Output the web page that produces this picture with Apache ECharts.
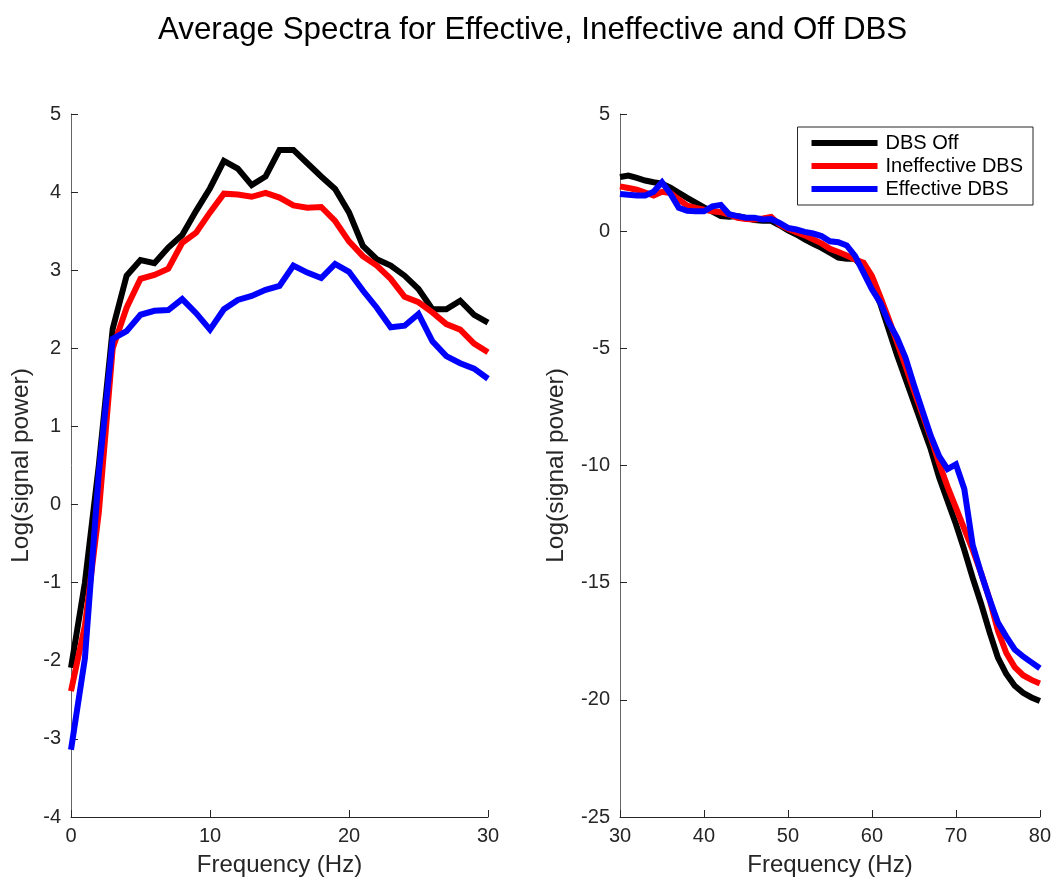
<!DOCTYPE html>
<html>
<head>
<meta charset="utf-8">
<script src="https://cdn.jsdelivr.net/npm/echarts@6/dist/echarts.min.js"></script>
<style>
html,body{margin:0;padding:0;background:#fff;}
#chart{width:1054px;height:882px;}
</style>
</head>
<body>
<div id="chart"></div>
<script>
// ---------- data ----------
const titleText = 'Average Spectra for Effective, Ineffective and Off DBS';
const seriesNames = ['DBS Off', 'Ineffective DBS', 'Effective DBS'];
const seriesColors = ['#000000', '#ff0000', '#0000ff'];

const leftFreq = [0,1,2,3,4,5,6,7,8,9,10,11,12,13,14,15,16,17,18,19,20,21,22,23,24,25,26,27,28,29,30];
const leftOff   = [-2.09,-1.0,0.5,2.25,2.93,3.13,3.09,3.29,3.45,3.76,4.05,4.40,4.30,4.09,4.20,4.54,4.54,4.37,4.20,4.04,3.74,3.31,3.14,3.06,2.93,2.76,2.50,2.50,2.61,2.43,2.33];
const leftIneff = [-2.39,-1.55,-0.1,2.0,2.52,2.89,2.94,3.02,3.35,3.48,3.74,3.98,3.97,3.94,3.99,3.93,3.83,3.80,3.81,3.63,3.37,3.18,3.06,2.89,2.66,2.59,2.46,2.31,2.24,2.06,1.95];
const leftEff   = [-3.14,-1.97,0.4,2.12,2.22,2.43,2.48,2.49,2.63,2.45,2.24,2.50,2.62,2.67,2.75,2.80,3.06,2.97,2.90,3.08,2.98,2.74,2.52,2.27,2.29,2.44,2.09,1.90,1.81,1.74,1.61];

const rightFreq = [30,31,32,33,34,35,36,37,38,39,40,41,42,43,44,45,46,47,48,49,50,51,52,53,54,55,56,57,58,59,60,61,62,63,64,65,66,67,68,69,70,71,72,73,74,75,76,77,78,79,80];
const rightOff = [2.31,2.37,2.27,2.16,2.09,2.03,1.86,1.64,1.42,1.22,
  1.02,0.83,0.65,0.62,0.65,0.57,0.48,0.44,0.44,0.25,
  0.03,-0.14,-0.35,-0.54,-0.71,-0.92,-1.13,-1.18,-1.18,-1.6,
  -2.3,-3.1,-4.2,-5.3,-6.3,-7.3,-8.3,-9.3,-10.5,-11.5,
  -12.5,-13.6,-14.8,-15.9,-17.1,-18.2,-18.9,-19.4,-19.7,-19.9,
  -20.05];
const rightIneff = [1.91,1.84,1.77,1.65,1.52,1.68,1.63,1.35,1.09,0.99,
  0.92,0.85,0.81,0.71,0.57,0.52,0.50,0.54,0.61,0.28,
  0.10,-0.04,-0.18,-0.35,-0.52,-0.75,-0.89,-1.04,-1.21,-1.35,
  -1.91,-2.8,-3.75,-4.75,-5.75,-6.8,-7.8,-8.8,-9.9,-10.9,
  -11.8,-12.7,-13.6,-14.6,-15.7,-17.05,-18.0,-18.6,-18.95,-19.15,
  -19.3];
const rightEff = [1.59,1.55,1.52,1.52,1.68,2.09,1.6,1.0,0.87,0.85,
  0.85,1.06,1.12,0.72,0.64,0.57,0.57,0.50,0.52,0.35,
  0.14,0.07,-0.03,-0.10,-0.21,-0.43,-0.47,-0.61,-1.06,-1.77,
  -2.48,-3.05,-3.90,-4.55,-5.4,-6.56,-7.65,-8.73,-9.6,-10.15,
  -9.95,-11.0,-13.4,-14.6,-15.7,-16.7,-17.3,-17.85,-18.15,-18.4,
  -18.65];

const xTitle = 'Frequency (Hz)';
const yTitle = 'Log(signal power)';

// ---------- chart ----------
const FONT = '"Liberation Sans", Arial, Helvetica, sans-serif';
const TXT = '#262626';
function pairs(xs, ys){ return xs.map((x,i)=>[x, ys[i]]); }

const chart = echarts.init(document.getElementById('chart'), null, {renderer:'canvas'});

function xAxisCfg(gridIndex, min, max){
  return {
    type:'value', gridIndex, min, max, interval:10,
    name:xTitle, nameLocation:'middle', nameGap:36,
    nameTextStyle:{fontFamily:FONT, fontSize:24, color:TXT},
    axisLine:{show:true, onZero:false, lineStyle:{color:'#262626', width:1}},
    axisTick:{show:true, inside:true, length:7, lineStyle:{color:'#262626'}},
    axisLabel:{fontFamily:FONT, fontSize:20, color:TXT, margin:9},
    splitLine:{show:false}
  };
}
function yAxisCfg(gridIndex, min, max, interval, gap){
  return {
    type:'value', gridIndex, min, max, interval,
    name:yTitle, nameLocation:'middle', nameGap:gap, nameRotate:90,
    nameTextStyle:{fontFamily:FONT, fontSize:24.5, color:TXT},
    axisLine:{show:true, onZero:false, lineStyle:{color:'#666666', width:1}},
    axisTick:{show:true, inside:true, length:7, lineStyle:{color:'#262626'}},
    axisLabel:{fontFamily:FONT, fontSize:20, color:TXT, margin:10},
    splitLine:{show:false}
  };
}
function lineSeries(name, color, xi, data){
  return {
    name, type:'line', xAxisIndex:xi, yAxisIndex:xi, data,
    showSymbol:false, symbol:'none', smooth:false,
    lineStyle:{color, width:6, join:'miter', cap:'butt'},
    itemStyle:{color},
    emphasis:{disabled:true}, animation:false
  };
}

const option = {
  backgroundColor:'#ffffff',
  animation:false,
  title:{
    text:titleText, left:153, top:10,
    textStyle:{fontFamily:FONT, fontSize:31.3, fontWeight:'normal', color:'#000'}
  },
  legend:{
    data:seriesNames.map((n,i)=>({name:n, icon:'rect', itemStyle:{color:seriesColors[i]}})),
    orient:'vertical', right:21, top:127,
    itemWidth:66, itemHeight:6, itemGap:3,
    padding:[6,10,6,14],
    borderColor:'#262626', borderWidth:1, backgroundColor:'#fff',
    textStyle:{fontFamily:FONT, fontSize:20, lineHeight:20, color:'#000', padding:[0,0,0,3]},
    selectedMode:false
  },
  grid:[
    {left:71, top:114, width:417, height:705},
    {left:620, top:114, width:420, height:705}
  ],
  xAxis:[xAxisCfg(0,0,30), xAxisCfg(1,30,80)],
  yAxis:[yAxisCfg(0,-4,5,1,37), yAxisCfg(1,-25,5,5,51)],
  series:[
    lineSeries(seriesNames[0], seriesColors[0], 0, pairs(leftFreq,leftOff)),
    lineSeries(seriesNames[1], seriesColors[1], 0, pairs(leftFreq,leftIneff)),
    lineSeries(seriesNames[2], seriesColors[2], 0, pairs(leftFreq,leftEff)),
    lineSeries(seriesNames[0], seriesColors[0], 1, pairs(rightFreq,rightOff)),
    lineSeries(seriesNames[1], seriesColors[1], 1, pairs(rightFreq,rightIneff)),
    lineSeries(seriesNames[2], seriesColors[2], 1, pairs(rightFreq,rightEff))
  ]
};
chart.setOption(option);
</script>
</body>
</html>
